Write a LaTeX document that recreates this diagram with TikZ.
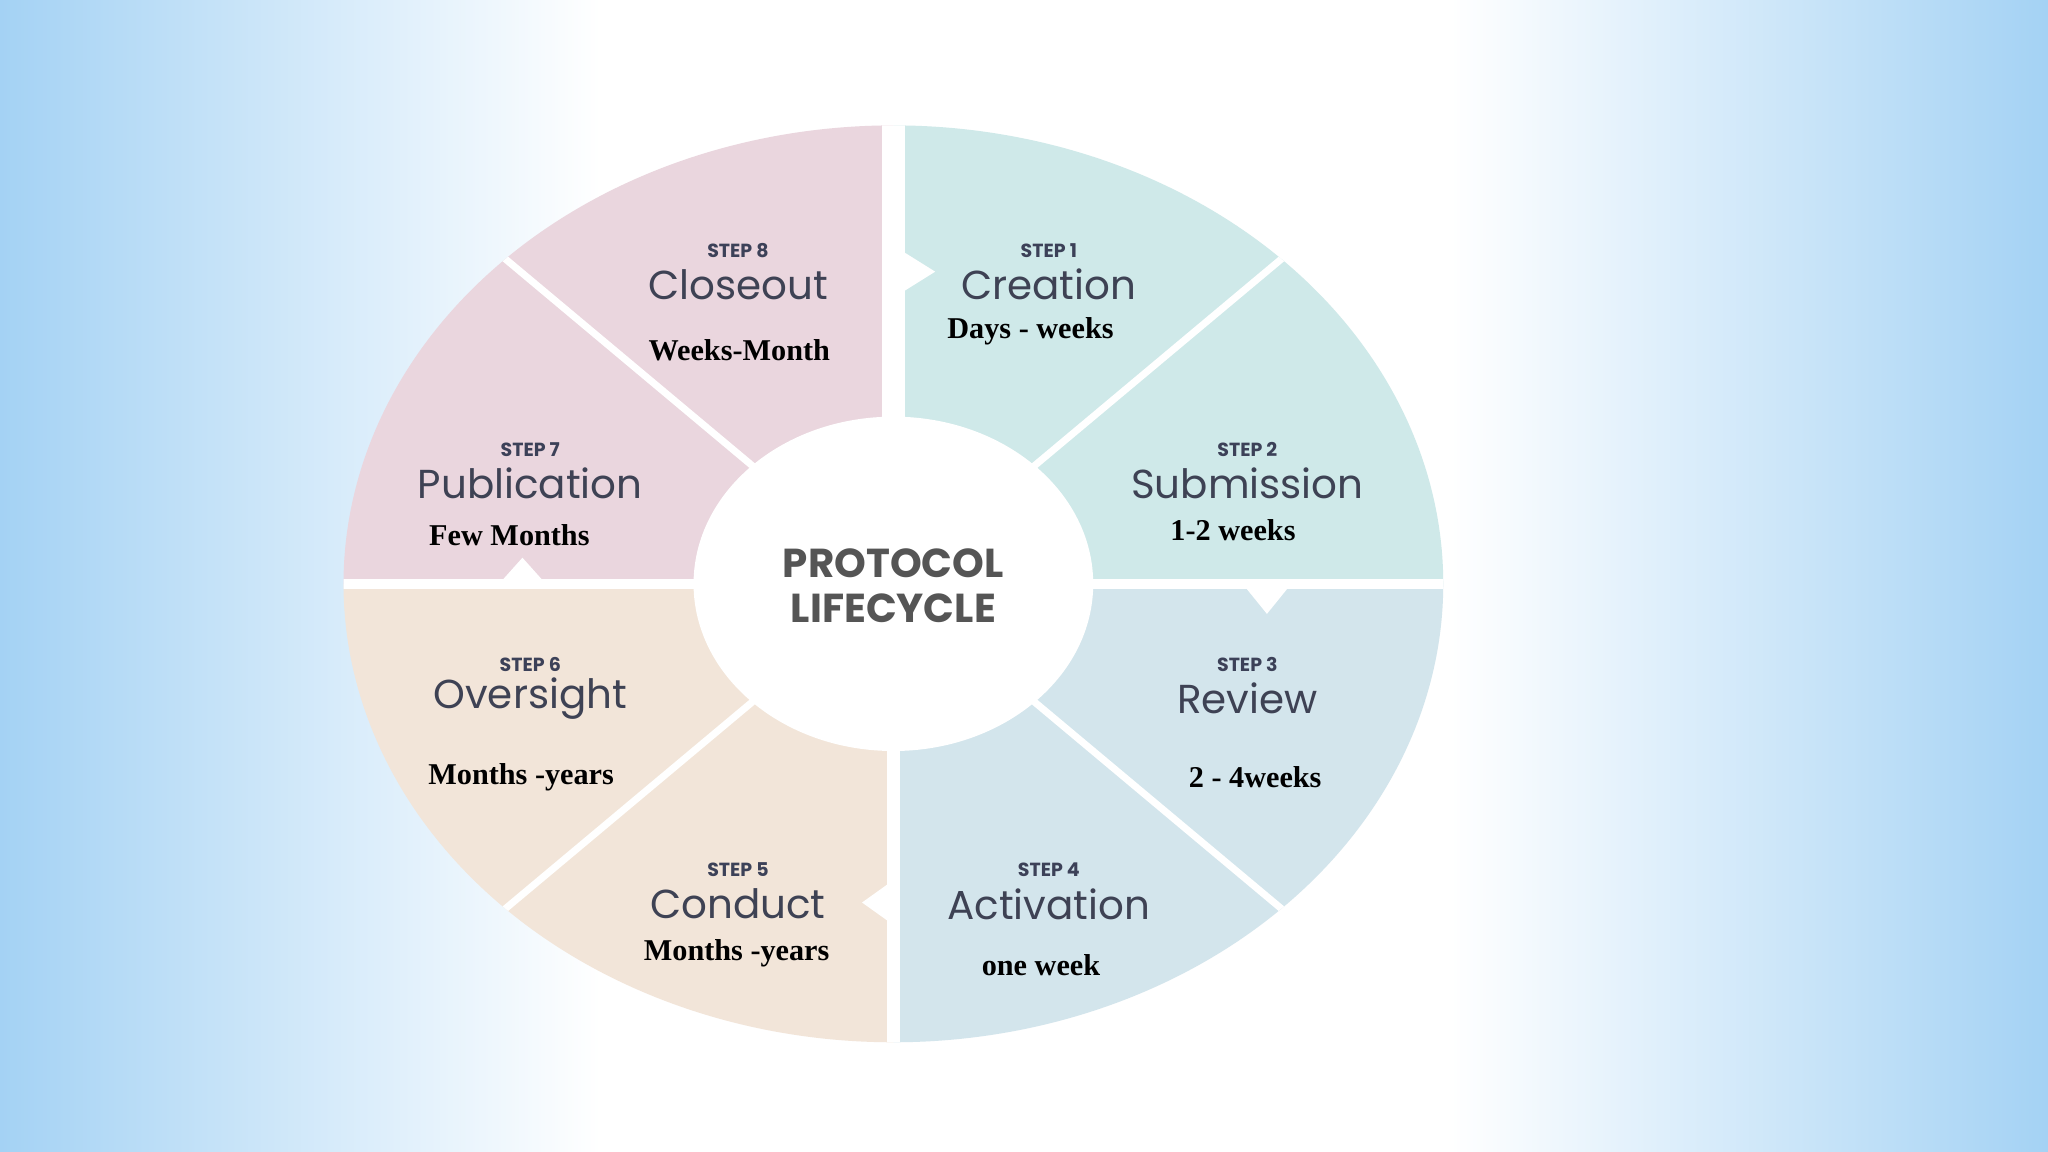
\documentclass[tikz,border=0pt]{standalone}
\usepackage{fontspec}
\setmainfont{Liberation Serif}
\newfontfamily\ttl{Poppins}
\newfontfamily\hd{Poppins}
\usetikzlibrary{calc}
\definecolor{bgblue}{HTML}{A4D2F4}
\definecolor{cteal}{HTML}{CFE9E9}
\definecolor{cblue}{HTML}{D3E5EC}
\definecolor{cpeach}{HTML}{F2E5D9}
\definecolor{cpink}{HTML}{EAD6DE}
\definecolor{stepc}{HTML}{3C4158}
\definecolor{titc}{HTML}{3E4254}
\definecolor{ctr}{HTML}{555555}
\tikzset{
  steplbl/.style={font=\hd\bfseries\fontsize{5.4}{6}\selectfont, text=stepc},
  titlbl/.style={font=\ttl\fontsize{11.5}{13}\selectfont, text=titc},
  durlbl/.style={font=\bfseries\fontsize{8.6}{10}\selectfont, text=black},
  ctrlbl/.style={font=\hd\bfseries\fontsize{11.5}{13}\selectfont, text=ctr},
  gap/.style={draw=white}
}
\begin{document}
\begin{tikzpicture}[x=0.013061cm,y=-0.013061cm]
\useasboundingbox (0,0) rectangle (1568,882);
\fill[white] (0,0) rectangle (1568,882);
\shade[left color=bgblue,right color=white] (0,0) rectangle (460,882);
\shade[left color=white,right color=bgblue] (1110,0) rectangle (1568,882);
\coordinate (c) at (684,447);
% sectors
\foreach \a/\b/\col in {-90/-45/cteal,-45/0/cteal,0/45/cblue,45/90/cblue,90/135/cpeach,135/180/cpeach,180/225/cpink,225/270/cpink}{
  \fill[\col] (c) -- ($(c)+(\a:421 and 351)$) arc[start angle=\a,end angle=\b,x radius=421,y radius=351] -- cycle;
}
% dividers
\begin{scope}
\clip (c) ellipse[x radius=421,y radius=351];
\coordinate (t) at (684,90); \coordinate (bt) at (684,805);
\coordinate (l) at (255,447); \coordinate (r) at (1112,447);
\draw[gap,line width=6.7pt] (t) -- (c);
\draw[gap,line width=3.7pt] (c) -- (bt);
\draw[gap,line width=3pt] (l) -- (r);
\foreach \ang in {45,135,225,315}{
  \draw[gap,line width=2pt] (c) -- ($(c)+(\ang:430 and 360)$);
}
\end{scope}
% notches
\fill[white] (692,193) -- (716,208) -- (692,223) -- cycle;
\fill[white] (953,449) -- (987,449) -- (970,470) -- cycle;
\fill[white] (681,676) -- (660,691) -- (681,706) -- cycle;
\fill[white] (383,446) -- (417,446) -- (400,427) -- cycle;
% center
\fill[white] (c) ellipse[x radius=153,y radius=128];
\node[ctrlbl] (ctr1) at (684,431) {PROTOCOL};
\node[ctrlbl] (ctr2) at (684,466) {LIFECYCLE};
% labels
\foreach \n/\x/\y/\t/\dx/\dy/\d in {
 1/803/192/Creation/789/254/Days - weeks,
 2/955/344/Submission/944/406/1-2 weeks,
 3/955/509/Review/961/595/2 - 4weeks,
 4/803/666/Activation/797/739/one week,
 5/565/666/Conduct/564/730/Months -years,
 6/406/509/Oversight/399/595/Months -years,
 7/406/344/Publication/390/410/Few Months,
 8/565/192/Closeout/566/268/Weeks-Month}{
  \node[steplbl] (s\n) at (\x,\y) {STEP \n};
  \node[titlbl] (n\n) at (\x,\y+26) {\t};
  \node[durlbl] (d\n) at (\dx,\dy) {\d};
}
\end{tikzpicture}
\end{document}
